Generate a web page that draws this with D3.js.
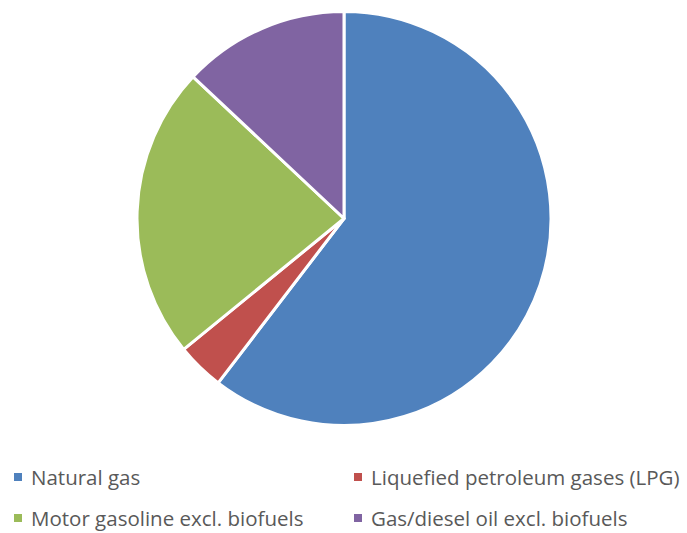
<!DOCTYPE html>
<html><head><meta charset="utf-8">
<script src="https://cdn.jsdelivr.net/npm/d3@7"></script>
<style>html,body{margin:0;padding:0;background:#fff;}</style>
</head><body>
<svg id="c" width="687" height="533"></svg>
<script>
const categories = ["Natural gas","Liquefied petroleum gases (LPG)","Motor gasoline excl. biofuels","Gas/diesel oil excl. biofuels"];
const values = [60.4, 3.7, 22.9, 13.0];
const colors = ["#4F81BD","#C0504D","#9BBB59","#8064A2"];

const svg = d3.select("#c");
const cx = 344, cy = 218.5, r = 207;
const pie = d3.pie().sort(null).value(d => d)(values);
const arc = d3.arc().innerRadius(0).outerRadius(r);
const g = svg.append("g").attr("transform", `translate(${cx},${cy})`);
g.selectAll("path").data(pie).join("path")
  .attr("d", arc)
  .attr("fill", (d,i) => colors[i])
  .attr("stroke", "#fff").attr("stroke-width", 3).attr("stroke-linejoin","round");

const legPos = [[14,485],[354,485],[14,526],[354,526]];
const leg = svg.append("g");
categories.forEach((c,i) => {
  const [x,y] = legPos[i];
  leg.append("rect").attr("x", x).attr("y", y-12).attr("width", 8).attr("height", 8).attr("fill", colors[i]);
  leg.append("text").attr("x", x+17).attr("y", y)
    .attr("font-family", "'Open Sans',sans-serif")
    .attr("font-size", 20.5).attr("fill", "#595959").text(c);
});
</script>
</body></html>
